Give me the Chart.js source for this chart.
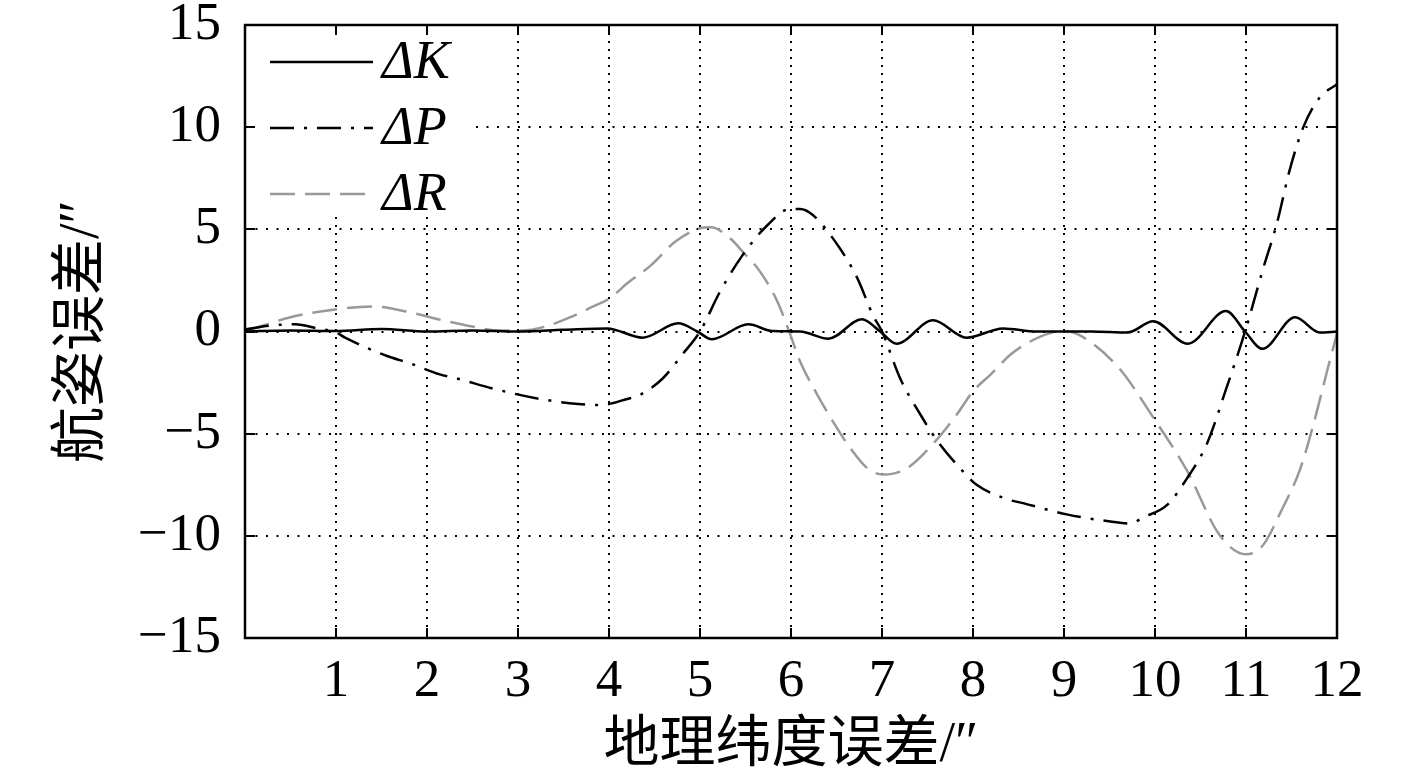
<!DOCTYPE html>
<html><head><meta charset="utf-8">
<script src="https://cdn.jsdelivr.net/npm/chart.js@4.4.1/dist/chart.umd.min.js"></script>
<style>html,body{margin:0;padding:0;background:#fff;overflow:hidden}</style>
</head><body>
<canvas id="c" width="1417" height="780" style="display:block;width:1417px;height:780px"></canvas>
<script>
// ---- data ----
const seriesLabels = ['\u0394K', '\u0394P', '\u0394R'];
const xTickValues = [0,1,2,3,4,5,6,7,8,9,10,11,12];
const yTickValues = [-15,-10,-5,0,5,10,15];
const xTitle = '地理纬度误差/\u2033';
const yTitle = '航姿误差/\u2033';

const kX = [0,0.5,1,1.5,2,2.5,3,3.5,3.98,4.37,4.76,4.97,5.13,5.53,5.8,6.1,6.41,6.78,6.98,7.16,7.56,7.93,8.33,8.7,9.3,9.7,9.98,10.36,10.78,10.99,11.18,11.54,11.81,12];
const kY = [0,0.05,0.02,0.12,0,0.05,0,0.08,0.15,-0.3,0.4,0,-0.38,0.35,0.02,0,-0.35,0.6,0,-0.6,0.55,-0.3,0.15,0,0,-0.05,0.5,-0.6,1.0,0,-0.85,0.7,-0.05,0];

const pX = [0,0.3,0.55,0.8,1.0,1.1,1.56,1.81,2.14,2.33,2.73,3.24,3.66,3.9,4.2,4.34,4.59,4.81,5.0,5.22,5.47,5.74,5.99,6.1,6.24,6.54,6.73,6.9,7.0,7.2,7.42,7.6,7.89,8.04,8.37,8.55,9.03,9.51,9.73,9.87,10.13,10.35,10.57,10.79,10.99,11.19,11.34,11.48,11.63,11.81,12];
const pY = [0.1,0.3,0.35,0.15,-0.05,-0.3,-1.2,-1.55,-2.1,-2.3,-2.8,-3.3,-3.55,-3.6,-3.3,-3.1,-2.3,-1.1,0,1.95,3.75,5.2,6.0,6.0,5.7,4.05,2.6,0.8,0,-2.3,-4.05,-5.3,-6.85,-7.5,-8.2,-8.4,-8.95,-9.3,-9.4,-9.1,-8.5,-7.2,-5.5,-2.7,0,3.1,5.3,7.9,10.0,11.45,12.1];

const rX = [0,0.5,0.97,1.41,1.85,2.14,2.5,2.8,3.04,3.3,3.59,3.82,4.01,4.2,4.45,4.73,5.0,5.12,5.33,5.47,5.66,5.85,5.98,6.1,6.29,6.46,6.65,6.84,7.01,7.27,7.56,7.82,8.0,8.19,8.41,8.63,8.85,9.03,9.2,9.6,9.98,10.35,10.71,11.0,11.18,11.4,11.59,11.74,11.89,12];
const rY = [0,0.7,1.07,1.22,0.9,0.58,0.24,0.05,0.05,0.24,0.73,1.22,1.63,2.36,3.2,4.4,5.05,5.1,4.56,3.9,2.93,1.47,0,-1.47,-3.1,-4.4,-5.7,-6.7,-7.0,-6.7,-5.5,-4.07,-2.93,-2.12,-1.14,-0.49,-0.08,0,-0.25,-1.77,-4.2,-6.8,-9.96,-10.9,-10.5,-8.66,-6.8,-4.56,-1.96,-0.1];

const pts = (xs, ys) => xs.map((x, i) => ({x: x, y: ys[i]}));
const FONT = '"Liberation Serif", "Noto Sans CJK SC", serif';
const TICK = 10;

const overlay = {
  id: 'overlay',
  afterDatasetsDraw(chart) {
    const {ctx, chartArea: a, scales: {x, y}} = chart;
    ctx.save();
    // legend background
    ctx.fillStyle = '#fff';
    ctx.fillRect(a.left + 1, a.top + 1, 222, 190);
    // inward tick marks
    ctx.strokeStyle = '#000';
    ctx.lineWidth = 2;
    ctx.beginPath();
    x.ticks.forEach(t => {
      const px = Math.round(x.getPixelForValue(t.value));
      ctx.moveTo(px, a.bottom); ctx.lineTo(px, a.bottom - TICK);
      ctx.moveTo(px, a.top); ctx.lineTo(px, a.top + TICK);
    });
    y.ticks.forEach(t => {
      const py = Math.round(y.getPixelForValue(t.value));
      ctx.moveTo(a.left, py); ctx.lineTo(a.left + TICK, py);
      ctx.moveTo(a.right, py); ctx.lineTo(a.right - TICK, py);
    });
    ctx.stroke();
    // frame
    ctx.lineWidth = 2.5;
    ctx.strokeRect(a.left, a.top, a.right - a.left, a.bottom - a.top);
    // legend entries
    chart.data.datasets.forEach((ds, i) => {
      const yy = a.top + 37 + i * 66;
      ctx.setLineDash(ds.borderDash || []);
      ctx.strokeStyle = ds.borderColor;
      ctx.lineWidth = ds.borderWidth;
      ctx.beginPath();
      ctx.moveTo(a.left + 25, yy);
      ctx.lineTo(a.left + 128, yy);
      ctx.stroke();
      ctx.setLineDash([]);
      ctx.fillStyle = '#000';
      ctx.font = 'italic 54px "Liberation Serif", serif';
      ctx.textBaseline = 'middle';
      ctx.textAlign = 'left';
      ctx.fillText(ds.label, a.left + 137, yy + 2);
    });
    ctx.restore();
  }
};

new Chart(document.getElementById('c'), {
  type: 'line',
  data: {
    datasets: [
      {label: seriesLabels[0], data: pts(kX, kY), borderColor: '#000', borderWidth: 2.5, borderDash: []},
      {label: seriesLabels[1], data: pts(pX, pY), borderColor: '#000', borderWidth: 2.5, borderDash: [24, 10, 3, 10]},
      {label: seriesLabels[2], data: pts(rX, rY), borderColor: '#999', borderWidth: 2.5, borderDash: [25, 10]}
    ]
  },
  options: {
    responsive: false,
    animation: false,
    devicePixelRatio: 1,
    layout: {padding: {left: 0, right: 80, top: 25, bottom: 0}},
    elements: {point: {radius: 0}, line: {cubicInterpolationMode: 'monotone', fill: false}},
    plugins: {legend: {display: false}, tooltip: {enabled: false}},
    scales: {
      x: {
        type: 'linear', min: 0, max: 12,
        afterBuildTicks: s => { s.ticks = xTickValues.map(v => ({value: v})); },
        afterFit: s => { s.height = 142; s.paddingLeft = 0; s.paddingRight = 0; },
        ticks: {
          color: '#000', padding: 12, maxRotation: 0, autoSkip: false,
          font: {family: FONT, size: 53, lineHeight: 1.2},
          callback: v => v === 0 ? '' : String(v)
        },
        grid: {color: '#000', lineWidth: 2, drawTicks: false},
        border: {display: false, dash: [2, 6]},
        title: {display: true, text: xTitle, color: '#000', padding: 0,
          font: {family: FONT, size: 56, lineHeight: 1.2}}
      },
      y: {
        type: 'linear', min: -15, max: 15,
        afterBuildTicks: s => { s.ticks = yTickValues.map(v => ({value: v})); },
        afterFit: s => { s.width = 245; s.paddingTop = 0; s.paddingBottom = 0; },
        ticks: {
          color: '#000', padding: 24,
          font: {family: FONT, size: 53, lineHeight: 0.9},
          callback: v => v < 0 ? '\u2212' + Math.abs(v) : String(v)
        },
        grid: {color: '#000', lineWidth: 2, drawTicks: false},
        border: {display: false, dash: [2, 8.5]},
        title: {display: true, text: yTitle, color: '#000', padding: {top: 50, bottom: 0},
          font: {family: FONT, size: 56, lineHeight: 1.2}}
      }
    }
  },
  plugins: [overlay]
});
</script>
</body></html>
